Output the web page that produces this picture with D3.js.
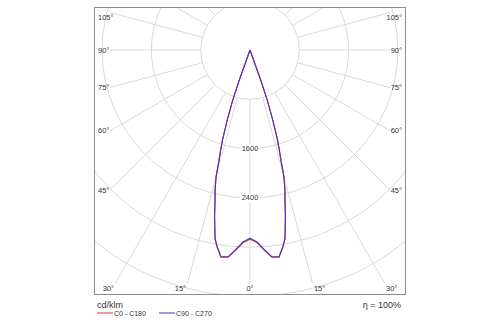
<!DOCTYPE html>
<html><head><meta charset="utf-8">
<script src="https://cdn.jsdelivr.net/npm/d3@7"></script>
<style>body{margin:0;background:#fff} svg{display:block}</style>
</head><body>
<script>
// ---- data ----
const gammaAngles = [0, 2, 4, 6, 8, 9.5, 10.5, 12, 13, 14, 15, 15.6, 16.3, 17, 18, 19, 19.6, 20];
const c0c180Values  = [3070, 3125, 3250, 3380, 3395, 3240, 3120, 2770, 2530, 2350, 2130, 1890, 1710, 1530, 1205, 868, 525, 0];
const c90c270Values = [3056, 3113, 3240, 3373, 3387, 3230, 3110, 2760, 2520, 2340, 2120, 1880, 1700, 1520, 1195, 860, 517, 0];
const radialTicks = [800, 1600, 2400, 3200, 4000, 4800];
const radialTickLabels = [1600, 2400];
const angleTicks = d3.range(0, 360, 15);
const angleTickLabels = [0, 15, 30, 45, 60, 75, 90, 105];
const seriesNames = ["C0 - C180", "C90 - C270"];
const unitLabel = "cd/klm";
const efficiencyLabel = "η = 100%";

// ---- layout ----
const W = 500, H = 325;
const frame = {x0: 94, x1: 406, y0: 7, y1: 295};
const inset = {x0: 110, x1: 390, y0: 7, y1: 283};
const cx = 250, cy = 50;
const colors = ["#e03030", "#4036c4"];
const font = "'Liberation Sans', Arial, sans-serif";

const svg = d3.select("body").append("svg").attr("width", W).attr("height", H)
  .style("font-family", font);

const r = d3.scaleLinear().domain([0, 800]).range([0, 49.3]);

svg.append("defs").append("clipPath").attr("id", "fclip")
  .append("rect").attr("x", frame.x0).attr("y", frame.y0)
  .attr("width", frame.x1 - frame.x0).attr("height", frame.y1 - frame.y0);

const grid = svg.append("g").attr("clip-path", "url(#fclip)");
const gc = "#d9d9d9";

// circles
grid.selectAll("circle.ring").data(radialTicks).join("circle")
  .attr("cx", cx).attr("cy", cy).attr("r", d => r(d))
  .attr("fill", "none").attr("stroke", gc).attr("stroke-width", 1);

// spoke geometry
function hit(thetaDeg) {
  const a = thetaDeg * Math.PI / 180;
  const dx = Math.sin(a), dy = Math.cos(a);
  let t = Infinity, side = null;
  const test = (v, s) => { if (v > 0 && v < t) { t = v; side = s; } };
  if (dx > 1e-9) test((inset.x1 - cx) / dx, "right");
  if (dx < -1e-9) test((inset.x0 - cx) / dx, "left");
  if (dy > 1e-9) test((inset.y1 - cy) / dy, "bottom");
  if (dy < -1e-9) test((inset.y0 - cy) / dy, "top");
  return {t, side, x: cx + dx * t, y: cy + dy * t, dx, dy};
}

const r0 = r(radialTicks[0]);
const spokes = angleTicks.map(a => ({a, h: hit(a)})).filter(d => d.h.t > r0);
grid.selectAll("line.spoke").data(spokes).join("line")
  .attr("x1", d => cx + d.h.dx * r0).attr("y1", d => cy + d.h.dy * r0)
  .attr("x2", d => d.h.x).attr("y2", d => d.h.y)
  .attr("stroke", gc).attr("stroke-width", 1);

// radial tick labels (on the nadir axis)
const rl = svg.append("g");
radialTickLabels.forEach(v => {
  const y = cy + r(v);
  rl.append("rect").attr("x", cx - 10).attr("y", y - 4.5).attr("width", 20).attr("height", 9).attr("fill", "#fff");
  rl.append("text").attr("x", cx).attr("y", y).attr("text-anchor", "middle")
    .attr("dominant-baseline", "central").attr("font-size", 7.5).attr("fill", "#333").text(v);
});

// angle labels
const al = svg.append("g").attr("font-size", 7.5).attr("fill", "#333");
angleTickLabels.forEach(a => {
  const sides = a === 0 ? [0] : [-a, a];
  sides.forEach(th => {
    const h = hit(th);
    let x, y, anchor;
    if (h.side === "left" || h.side === "right" || h.side === "top") {
      x = th < 0 ? frame.x0 + 4 : frame.x1 - 4;
      anchor = th < 0 ? "start" : "end";
      y = Math.max(h.y, 17);
    } else {
      y = 288.5;
      if (th === 0) { x = h.x; anchor = "middle"; }
      else if (th < 0) { x = h.x - 1.5; anchor = "end"; }
      else { x = h.x + 1.5; anchor = "start"; }
    }
    al.append("text").attr("x", x).attr("y", y).attr("text-anchor", anchor)
      .attr("dominant-baseline", "central").text(a + "°");
  });
});

// frame
svg.append("rect").attr("x", frame.x0 + 0.5).attr("y", frame.y0 + 0.5)
  .attr("width", frame.x1 - frame.x0 - 1).attr("height", frame.y1 - frame.y0 - 1)
  .attr("fill", "none").attr("stroke", "#8c8c8c").attr("stroke-width", 1);

// curves
function curvePoints(values) {
  const half = gammaAngles.map((g, i) => ({g, v: values[i]}));
  const left = half.slice().reverse().map(d => ({a: Math.PI + d.g * Math.PI / 180, v: d.v}));
  const right = half.slice(1).map(d => ({a: Math.PI - d.g * Math.PI / 180, v: d.v}));
  return left.concat(right);
}
const line = d3.lineRadial().angle(d => d.a).radius(d => r(d.v)).curve(d3.curveLinear);
const curves = svg.append("g").attr("transform", `translate(${cx},${cy})`);
[c0c180Values, c90c270Values].forEach((vals, i) => {
  curves.append("path").attr("d", line(curvePoints(vals)))
    .attr("fill", "none").attr("stroke", colors[i]).attr("stroke-width", 1.1)
    .attr("stroke-linejoin", "round");
});

// legend
svg.append("text").attr("x", 97).attr("y", 305).attr("dominant-baseline", "central")
  .attr("font-size", 9).attr("fill", "#333").text(unitLabel);
svg.append("text").attr("x", 401).attr("y", 305).attr("dominant-baseline", "central")
  .attr("text-anchor", "end").attr("font-size", 9).attr("fill", "#333").text(efficiencyLabel);
const legX = [97, 159];
seriesNames.forEach((n, i) => {
  const g = svg.append("g").attr("transform", `translate(${legX[i]},313)`);
  g.append("line").attr("x1", 0).attr("x2", 16).attr("y1", 0).attr("y2", 0)
    .attr("stroke", colors[i]).attr("stroke-width", 1);
  g.append("text").attr("x", 17).attr("y", 0).attr("dominant-baseline", "central")
    .attr("font-size", 7).attr("fill", "#333").text(n);
});
</script>
</body></html>
